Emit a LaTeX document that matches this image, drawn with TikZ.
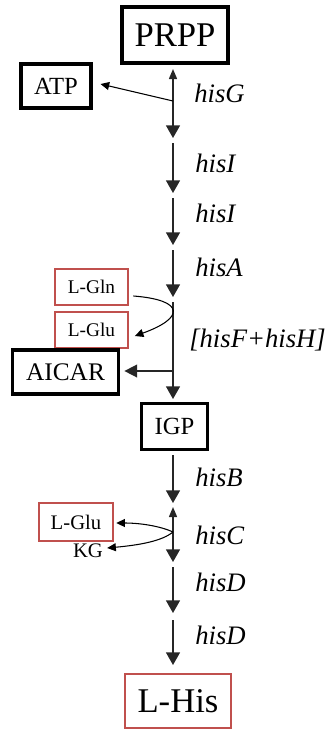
\documentclass[tikz,border=0pt]{standalone}
\usepackage{fontspec}
\setmainfont{Liberation Serif}
\usetikzlibrary{arrows.meta}
\definecolor{boxred}{HTML}{C0504D}
\definecolor{axis}{gray}{0.15}
\newcommand{\fsz}[1]{\fontsize{#1}{#1}\selectfont}
\begin{document}
\begin{tikzpicture}[x=0.75pt,y=-0.75pt,
  blackbox/.style={draw=black, line width=2.3pt, inner sep=0pt, align=center},
  redbox/.style={draw=boxred, line width=1.9pt, inner sep=0pt, align=center},
  enzyme/.style={anchor=west, inner sep=0pt, font=\fsz{20}\itshape},
  axisline/.style={draw=axis, line width=1.1pt},
  sideline/.style={draw=black, line width=0.8pt},
  bighead/.tip={Triangle[width=10.5pt,length=9.5pt]},
  smallhead/.tip={Triangle[width=6pt,length=7.5pt]},
  sidehead/.tip={Triangle[width=6pt,length=6.5pt]},
  midhead/.tip={Triangle[width=9.5pt,length=9.5pt]}]
\useasboundingbox (0,0) rectangle (325,729);

% metabolites
\node[blackbox, minimum width=79.5pt, minimum height=42pt, font=\fsz{26}] (prpp) at (175,35) {PRPP};
\node[blackbox, minimum width=52.5pt, minimum height=33pt, font=\fsz{18.5}] (atp) at (56,86) {ATP};
\node[redbox, minimum width=55pt, minimum height=27pt, font=\fsz{14.5}] (gln) at (91.5,287) {L-Gln};
\node[redbox, minimum width=55pt, minimum height=27pt, font=\fsz{14.5}] (glu) at (91.5,330) {L-Glu};
\node[blackbox, minimum width=79pt, minimum height=33pt, font=\fsz{19}] (aicar) at (65.5,372) {AICAR};
\node[blackbox, minimum width=49pt, minimum height=34pt, font=\fsz{18.5}] (igp) at (174.5,426.5) {IGP};
\node[redbox, minimum width=55.5pt, minimum height=28.5pt, font=\fsz{15.5}] (gluB) at (76,522) {L-Glu};
\node[inner sep=0pt, font=\fsz{15.5}] (kg) at (88,551) {KG};
\node[redbox, line width=2.1pt, minimum width=79.5pt, minimum height=40.5pt, font=\fsz{26}] (his) at (178,701) {L-His};

% points on the main axis
\coordinate (g0) at (173,69);
\coordinate (gA) at (173,101);
\coordinate (g1) at (173,138);
\coordinate (i0) at (173,143);
\coordinate (i1) at (173,193);
\coordinate (j0) at (173,198);
\coordinate (j1) at (173,245);
\coordinate (a0) at (173,250);
\coordinate (a1) at (173,297);
\coordinate (f0) at (173,302);
\coordinate (fA) at (173,371);
\coordinate (f1) at (173,399);
\coordinate (b0) at (173,455);
\coordinate (b1) at (173,503);
\coordinate (c0) at (173,507);
\coordinate (cA) at (173,532);
\coordinate (c1) at (173,562);
\coordinate (d0) at (173,567);
\coordinate (d1) at (173,613);
\coordinate (e0) at (173,620);
\coordinate (e1) at (173,665);

% main pathway
\draw[axisline, {smallhead}-{bighead}] (g0) -- (g1);
\draw[axisline, -{bighead}] (i0) -- (i1);
\draw[axisline, -{bighead}] (j0) -- (j1);
\draw[axisline, -{bighead}] (a0) -- (a1);
\draw[axisline, -{bighead}] (f0) -- (f1);
\draw[axisline, -{bighead}] (b0) -- (b1);
\draw[axisline, {smallhead}-{bighead}] (c0) -- (c1);
\draw[axisline, -{bighead}] (d0) -- (d1);
\draw[axisline, -{bighead}] (e0) -- (e1);

% side products and cofactors
\draw[sideline, -{sidehead}] (gA) -- ([xshift=6pt]atp.east |- 0,84);
\draw[axisline, -{midhead}] (fA) -- ([xshift=3.5pt]aicar.east |- fA);
\draw[sideline, -{sidehead}] ([xshift=3pt]gln.east |- 0,296)
  .. controls (185,300) and (185,318) .. ([xshift=4pt]glu.east |- 0,336);
\draw[sideline, -{sidehead}] (cA) .. controls (160,526) and (140,523) .. ([xshift=1.5pt]gluB.east |- 0,523);
\draw[sideline, -{sidehead}] (cA) .. controls (162,541) and (140,545) .. ([xshift=3pt]kg.east |- 0,548);

% enzymes
\node[enzyme] (hisG) at (194,93) {hisG};
\node[enzyme] (hisI1) at (195,163) {hisI};
\node[enzyme] (hisI2) at (195,213) {hisI};
\node[enzyme] (hisA) at (195,267) {hisA};
\node[enzyme] (hisFH) at (189,340) {[hisF+hisH]};
\node[enzyme] (hisB) at (195,477) {hisB};
\node[enzyme] (hisC) at (195,535) {hisC};
\node[enzyme] (hisD1) at (195,582) {hisD};
\node[enzyme] (hisD2) at (195,635) {hisD};
\end{tikzpicture}
\end{document}
